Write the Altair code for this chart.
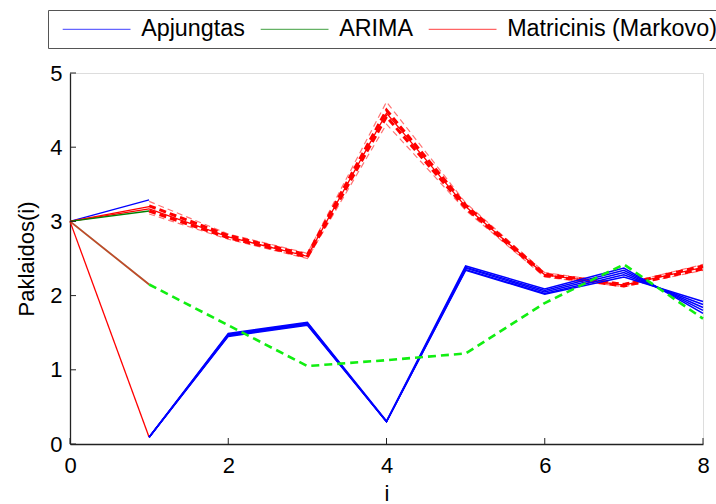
import altair as alt
import pandas as pd

# ---------------- data ----------------
GROUPS = ["Apjungtas", "ARIMA", "Matricinis (Markovo)"]
GROUP_COLORS = ["#0000ff", "#008000", "#ff0000"]

X_HEAD = [0, 1]
X_TAIL = [1, 2, 3, 4, 5, 6, 7, 8]

# first step (0 -> 1), solid lines
APJ_TOP = [3.0, 3.29]
ARIMA_TOP = [3.0, 3.14]
MARK_TOP_A = [3.0, 3.17]
MARK_TOP_B = [3.0, 3.20]
MARK_DROP = [3.0, 0.09]
MIXED_MID = [3.0, 2.15]

# Apjungtas bundle (solid blue)
APJ_TAIL_1 = [0.09, 1.45, 1.60, 0.30, 2.34, 2.02, 2.25, 1.92]
APJ_TAIL_2 = [0.09, 1.46, 1.61, 0.30, 2.35, 2.03, 2.28, 1.88]
APJ_TAIL_3 = [0.09, 1.47, 1.62, 0.30, 2.37, 2.05, 2.31, 1.84]
APJ_TAIL_4 = [0.09, 1.48, 1.63, 0.30, 2.38, 2.07, 2.34, 1.80]
APJ_TAIL_5 = [0.09, 1.49, 1.64, 0.31, 2.40, 2.09, 2.37, 1.76]

# ARIMA forecast (dashed lime)
ARIMA_TAIL = [2.15, 1.60, 1.05, 1.13, 1.22, 1.90, 2.42, 1.69]

# Matricinis (Markovo) bundle (dashed / solid red)
MARK_TAIL_THIN_1 = [3.27, 2.83, 2.57, 4.61, 3.25, 2.31, 2.16, 2.42]
MARK_TAIL_THIN_2 = [3.10, 2.76, 2.50, 4.31, 3.15, 2.25, 2.12, 2.34]
MARK_TAIL_THICK_1 = [3.21, 2.81, 2.55, 4.50, 3.22, 2.29, 2.15, 2.40]
MARK_TAIL_THICK_2 = [3.14, 2.78, 2.52, 4.41, 3.18, 2.27, 2.13, 2.36]
MARK_TAIL_SOLID = [3.17, 2.79, 2.53, 4.46, 3.20, 2.28, 2.14, 2.38]

X_TICKS = [0, 2, 4, 6, 8]
Y_TICKS = [0, 1, 2, 3, 4, 5]


def rows(xs, ys, sid, group, layer):
    return [{"i": x, "v": y, "s": sid, "g": group, "layer": layer} for x, y in zip(xs, ys)]


recs = []
recs += rows(X_HEAD, APJ_TOP, "h1", GROUPS[0], "head")
recs += rows(X_HEAD, MARK_TOP_B, "h2", GROUPS[2], "head")
recs += rows(X_HEAD, MARK_TOP_A, "h3", GROUPS[2], "head")
recs += rows(X_HEAD, ARIMA_TOP, "h4", GROUPS[1], "head")
recs += rows(X_HEAD, MARK_DROP, "h5", GROUPS[2], "head")
recs += rows(X_HEAD, MIXED_MID, "m1", GROUPS[1], "mixed")
recs += rows(X_HEAD, MIXED_MID, "m2", GROUPS[2], "mixed")
recs += rows(X_TAIL, MARK_TAIL_THIN_1, "rt1", GROUPS[2], "redthin")
recs += rows(X_TAIL, MARK_TAIL_THIN_2, "rt2", GROUPS[2], "redthin")
recs += rows(X_TAIL, MARK_TAIL_THICK_1, "rk1", GROUPS[2], "redthick")
recs += rows(X_TAIL, MARK_TAIL_THICK_2, "rk2", GROUPS[2], "redthick")
recs += rows(X_TAIL, MARK_TAIL_SOLID, "rs1", GROUPS[2], "redsolid")
for k, arr in enumerate([APJ_TAIL_1, APJ_TAIL_2, APJ_TAIL_3, APJ_TAIL_4, APJ_TAIL_5]):
    recs += rows(X_TAIL, arr, f"b{k}", GROUPS[0], "blue")
recs += rows(X_TAIL, ARIMA_TAIL, "g1", GROUPS[1], "lime")

df = pd.DataFrame(recs)

FONT = "Liberation Sans"
D = 22.6  # legend symbol "diameter"

x_enc = alt.X(
    "i:Q",
    scale=alt.Scale(domain=[0, 8], nice=False, zero=False),
    axis=alt.Axis(
        values=X_TICKS, format="d", tickSize=0, labelFontSize=22, labelPadding=11,
        labelFlush=False,
        title="i", titleFontSize=22, titleFontWeight="normal", titlePadding=7,
        grid=False, domainColor="#222222", domainWidth=1.3, labelColor="black",
        titleColor="black", labelFont=FONT, titleFont=FONT,
    ),
)
y_enc = alt.Y(
    "v:Q",
    scale=alt.Scale(domain=[0, 5], nice=False, zero=False),
    axis=alt.Axis(
        values=Y_TICKS, format="d", tickSize=0, labelFontSize=22, labelPadding=8,
        labelFlush=False,
        title="Paklaidos(i)", titleFontSize=22, titleFontWeight="normal", titlePadding=11,
        grid=False, domainColor="#222222", domainWidth=1.3, labelColor="black",
        titleColor="black", labelFont=FONT, titleFont=FONT,
    ),
)
color_enc = alt.Color(
    "g:N",
    scale=alt.Scale(domain=GROUPS, range=GROUP_COLORS),
    sort=GROUPS,
    legend=alt.Legend(
        title=None, orient="none", direction="horizontal", columns=3,
        legendX=-22, legendY=-63, strokeColor="#555555", padding=7,
        fillColor="white", symbolType="M-3,0H3", symbolSize=D * D,
        symbolStrokeWidth=1.2, symbolDash=[1, 0], symbolOpacity=0.7,
        symbolOffset=7 + D, labelFontSize=23.3, labelFont=FONT, labelColor="black",
        labelOffset=10 + D, columnPadding=8, labelLimit=400,
    ),
)

base = alt.Chart(df)


def sel(name):
    return base.transform_filter(alt.datum.layer == name)


head = sel("head").mark_line(strokeWidth=1.3).encode(x=x_enc, y=y_enc, color=color_enc, detail="s:N")
mixed = sel("mixed").mark_line(strokeWidth=1.7, opacity=0.6).encode(x="i:Q", y="v:Q", color=alt.Color("g:N"), detail="s:N")
redthin = sel("redthin").mark_line(strokeWidth=1.2, strokeDash=[6, 4], opacity=0.55).encode(x="i:Q", y="v:Q", color=alt.Color("g:N"), detail="s:N")
redthick = sel("redthick").mark_line(strokeWidth=3, strokeDash=[7, 4]).encode(x="i:Q", y="v:Q", color=alt.Color("g:N"), detail="s:N")
redsolid = sel("redsolid").mark_line(strokeWidth=1.3).encode(x="i:Q", y="v:Q", color=alt.Color("g:N"), detail="s:N")
blue = sel("blue").mark_line(strokeWidth=1.5).encode(x="i:Q", y="v:Q", color=alt.Color("g:N"), detail="s:N")
lime = sel("lime").mark_line(strokeWidth=2.6, strokeDash=[8, 5]).encode(x="i:Q", y="v:Q", color=alt.value("#11ee11"), detail="s:N")

xt = pd.DataFrame({"t": X_TICKS})
yt = pd.DataFrame({"t": Y_TICKS})
xticks = alt.Chart(xt).mark_rule(color="#222222", strokeWidth=1).encode(
    x="t:Q", y=alt.value(371), y2=alt.value(365))
yticks = alt.Chart(yt).mark_rule(color="#222222", strokeWidth=1).encode(
    y="t:Q", x=alt.value(0), x2=alt.value(6))

chart = alt.layer(head, mixed, redthin, redthick, redsolid, blue, lime, xticks, yticks).properties(
    width=633, height=371,
    autosize=alt.AutoSizeParams(type="none"),
    padding={"left": 70, "top": 73, "right": 13, "bottom": 60},
).configure_view(stroke=None).configure(background="white")

chart.save("out.html", embed_options={"renderer": "svg", "actions": False})
